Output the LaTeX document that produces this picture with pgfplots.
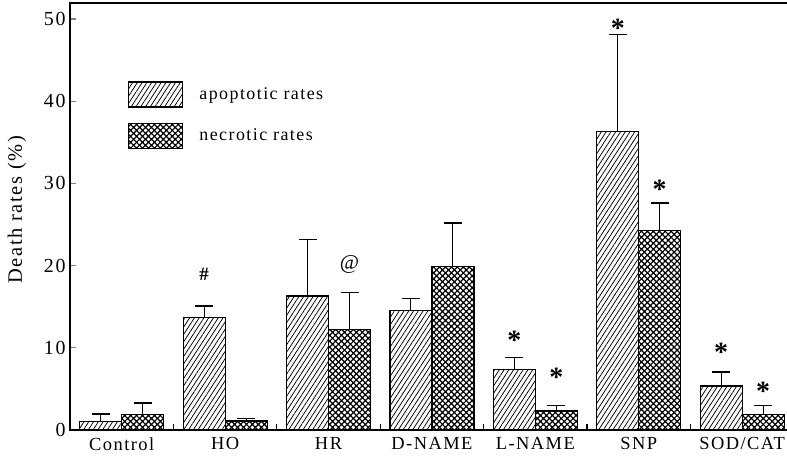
\documentclass[border=0pt]{standalone}
\usepackage{fontspec}
\setmainfont{Liberation Serif}[LetterSpace=8]
\newfontfamily\plainserif{Liberation Serif}
\usepackage{pgfplots}
\pgfplotsset{compat=1.18}
\usetikzlibrary{patterns.meta}

\pgfplotstableread{
x y e
0 1.0 0.95
1 13.65 1.45
2 16.3 6.9
3 14.5 1.5
4 7.4 1.4
5 36.3 11.8
6 5.35 1.7
}\apop
\pgfplotstableread{
x y e
0 1.9 1.4
1 1.1 0.3
2 12.2 4.5
3 19.9 5.3
4 2.3 0.65
5 24.25 3.35
6 1.86 1.14
}\necro

\begin{document}
\begin{tikzpicture}
\begin{axis}[
  scale only axis, width=720bp, height=427bp,
  xmin=-0.5, xmax=6.463, ymin=0, ymax=51.95,
  axis line style={line width=1.5bp},
  ybar, bar width=42bp,
  xtick={0,...,6},
  xticklabels={Control,HO,HR,D-NAME,L-NAME,SNP,SOD/CAT},
  major x tick style={draw=none},
  extra x ticks={0.5,1.5,2.5,3.5,4.5,5.5},
  extra x tick labels={},
  extra x tick style={major x tick style={draw=black, line width=1.3bp}},
  xtick pos=lower, ytick pos=left,
  tick align=inside,
  major tick length=6bp,
  ytick={0,10,...,50},
  ytick style={line width=1.2bp},
  /pgf/number format/assume math mode=true,
  xticklabel style={font=\fontsize{18.5}{20}\selectfont, yshift=-4bp},
  yticklabel style={font=\fontsize{20}{22}\selectfont, xshift=-1bp},
  every axis y label/.style={at={(axis description cs:-0.0736,0.516)}, rotate=90, anchor=center},
  ylabel={Death rates (\%)},
  ylabel style={font=\fontsize{20.5}{22}\selectfont},
  legend style={at={(0.0806,0.817)}, anchor=north west, draw=none, fill=none,
    inner sep=0pt, row sep=15bp, font=\fontsize{18}{20}\selectfont,
    nodes={inner sep=0pt}},
  legend cell align=left,
  legend image code/.code={\draw[#1, line width=1.2bp] (0bp,-12.5bp) rectangle (54bp,12.5bp); \path (70bp,0) ;},
]
\addplot[bar shift=-21bp, draw=black, line width=1.2bp,
  pattern={Lines[angle=57,distance=4bp,line width=0.75bp]},
  error bars/.cd, y dir=plus, y explicit,
  error bar style={line width=1.1bp, black},
  error mark options={black, line width=1.4bp, mark size=9bp, rotate=90}]
  table[x=x, y=y, y error=e] {\apop};
\addplot[bar shift=21bp, draw=black, line width=1.2bp,
  pattern={Hatch[angle=45,distance=4.2bp,line width=1.2bp]},
  error bars/.cd, y dir=plus, y explicit,
  error bar style={line width=1.1bp, black},
  error mark options={black, line width=1.4bp, mark size=9bp, rotate=90}]
  table[x=x, y=y, y error=e] {\necro};
\legend{apoptotic rates, necrotic rates}
\node[font=\plainserif\bfseries\fontsize{19}{20}\selectfont] at (axis cs:0.797,18.9) {\#};
\node[font=\plainserif\fontsize{21}{22}\selectfont] at (axis cs:2.203,20.1) {@};
\node[font=\plainserif\bfseries\fontsize{28}{28}\selectfont, anchor=base] at (axis cs:3.797,9.8) {*};
\node[font=\plainserif\bfseries\fontsize{28}{28}\selectfont, anchor=base] at (axis cs:4.203,5.3) {*};
\node[font=\plainserif\bfseries\fontsize{28}{28}\selectfont, anchor=base] at (axis cs:4.797,47.8) {*};
\node[font=\plainserif\bfseries\fontsize{28}{28}\selectfont, anchor=base] at (axis cs:5.203,28.2) {*};
\node[font=\plainserif\bfseries\fontsize{28}{28}\selectfont, anchor=base] at (axis cs:5.797,8.3) {*};
\node[font=\plainserif\bfseries\fontsize{28}{28}\selectfont, anchor=base] at (axis cs:6.203,3.6) {*};
\end{axis}
\pgfresetboundingbox
\path[use as bounding box] (-70bp,-33bp) rectangle (717bp,430bp);
\end{tikzpicture}
\end{document}
